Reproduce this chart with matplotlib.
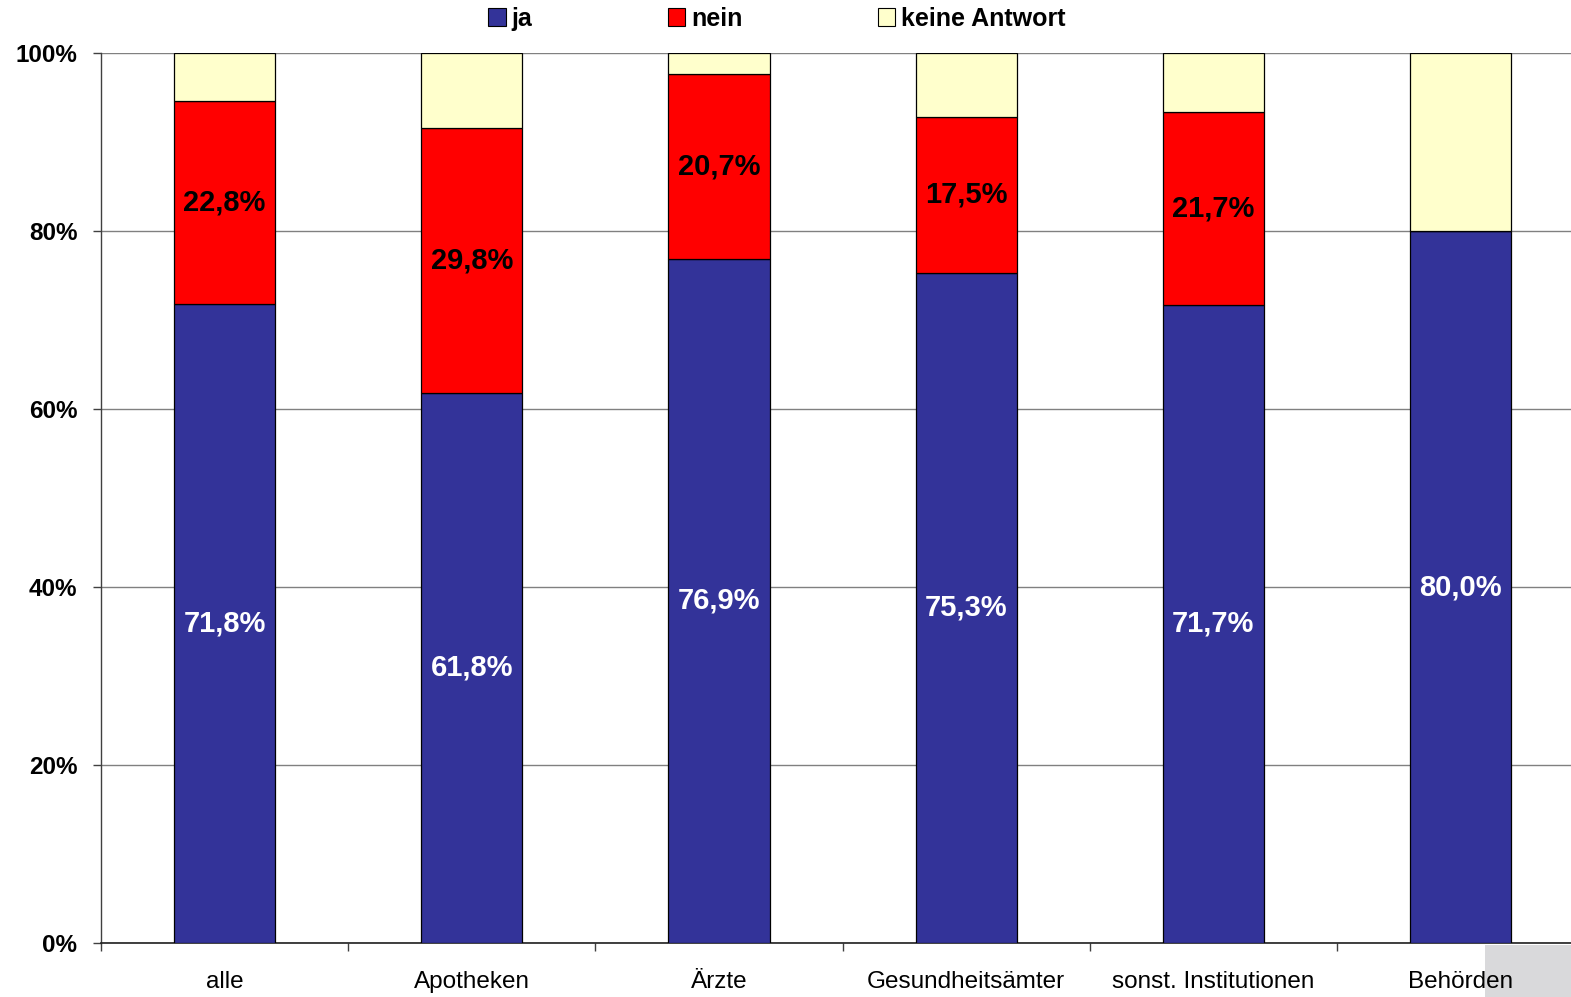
import matplotlib
matplotlib.use('Agg')
import matplotlib.pyplot as plt
from matplotlib.patches import Rectangle, Patch
import numpy as np

plt.rcParams['font.family'] = ['Liberation Sans', 'DejaVu Sans']

# Data
categories = ['alle', 'Apotheken', 'Ärzte', 'Gesundheitsämter', 'sonst. Institutionen', 'Behörden']
ja = [71.8, 61.8, 76.9, 75.3, 71.7, 80.0]
nein = [22.8, 29.8, 20.7, 17.5, 21.7, 0.0]
keine = [100 - a - b for a, b in zip(ja, nein)]
series_names = ['ja', 'nein', 'keine Antwort']
colors = ['#333399', '#FF0000', '#FFFFCC']

W, H = 1571, 997
fig = plt.figure(figsize=(W / 100, H / 100), dpi=100)
# axes: left at 101px, 0% at 943px, 100% at 53px, ~247px per category
ax = fig.add_axes([101 / W, (H - 943) / H, 6 * 247.2 / W, 890 / H])

x = np.arange(len(categories))
width = 0.41
bottom = np.zeros(len(categories))
for vals, name, col in zip([ja, nein, keine], series_names, colors):
    vals = np.array(vals)
    ax.bar(x, vals, width, bottom=bottom, color=col, edgecolor='black',
           linewidth=0.9, label=name, zorder=3)
    bottom += vals

# value labels
for i in range(len(categories)):
    ax.text(x[i], ja[i] / 2, f'{ja[i]:.1f}%'.replace('.', ','), ha='center', va='center',
            color='white', fontsize=21, fontweight='bold', zorder=4)
    if nein[i] > 0:
        ax.text(x[i], ja[i] + nein[i] / 2, f'{nein[i]:.1f}%'.replace('.', ','), ha='center',
                va='center', color='black', fontsize=21, fontweight='bold', zorder=4)

ax.set_xlim(-0.5, len(categories) - 0.5)
ax.set_ylim(0, 100)
ax.set_yticks(np.arange(0, 101, 20))
ax.set_yticklabels([f'{v}%' for v in range(0, 101, 20)], fontsize=17.5, fontweight='bold')
ax.yaxis.grid(True, color='#808080', linewidth=1.0, zorder=0)

ax.set_xticks(x)
ax.set_xticklabels(categories, fontsize=17.5)
ax.set_xticks(np.arange(-0.5, len(categories)), minor=True)
ax.tick_params(axis='x', which='major', length=0, pad=20)
ax.tick_params(axis='x', which='minor', length=6, width=1, color='#404040', direction='out')
ax.tick_params(axis='y', length=6, width=1, color='#404040', pad=11, direction='out')

for s in ['top', 'right']:
    ax.spines[s].set_visible(False)
ax.spines['left'].set_color('#404040')
ax.spines['bottom'].set_color('#202020')
ax.spines['left'].set_linewidth(1)
ax.spines['bottom'].set_linewidth(1.2)

handles = [Patch(facecolor=c, edgecolor='black', linewidth=0.8) for c in colors]
fig.legend(handles, series_names, loc='center', bbox_to_anchor=(777 / W, (H - 19) / H),
           ncol=3, frameon=False, prop={'size': 18, 'weight': 'bold'},
           handlelength=0.7, handleheight=0.7, handletextpad=0.25, columnspacing=5.4)

# grey patch in the lower right corner of the original image
fig.patches.append(Rectangle((1485 / W, 0), (W - 1485) / W, (H - 945) / H,
                             transform=fig.transFigure, facecolor='#D9D9DB',
                             edgecolor='none', zorder=-1))

fig.savefig('out.png', dpi=100)
